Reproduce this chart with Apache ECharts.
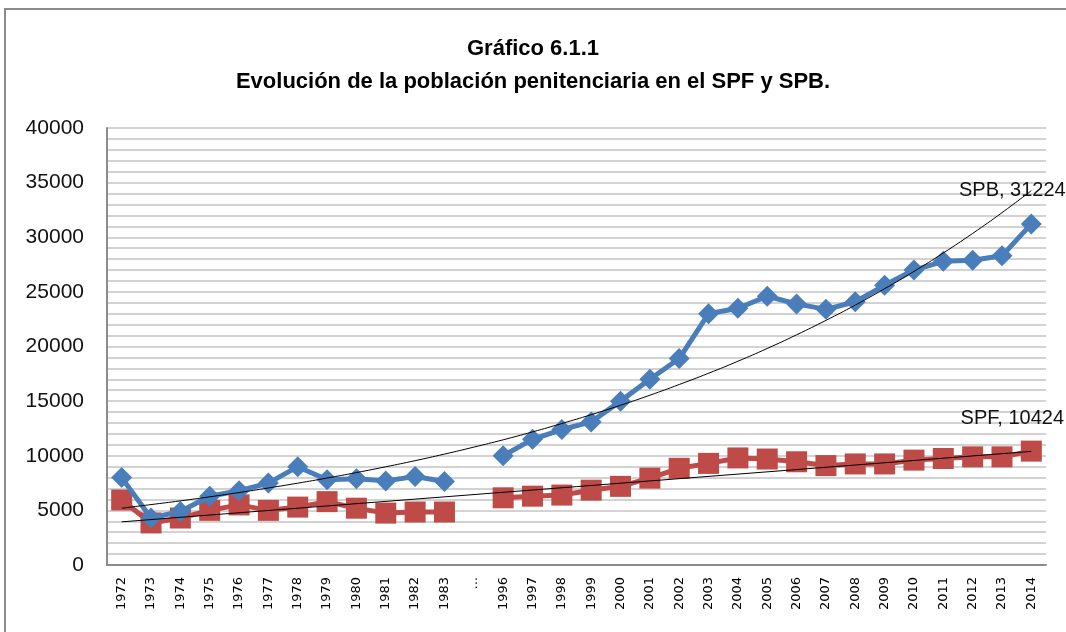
<!DOCTYPE html>
<html>
<head>
<meta charset="utf-8">
<title>Gráfico 6.1.1</title>
<script src="https://cdn.jsdelivr.net/npm/echarts@6/dist/echarts.min.js"></script>
<style>
  html, body { margin: 0; padding: 0; background: #fff; }
  #main { width: 1066px; height: 632px; }
</style>
</head>
<body>
<div id="main"></div>
<script>
// años (con corte "..." entre 1983 y 1996)
const years = [
  "1972", "1973", "1974", "1975", "1976", "1977", "1978", "1979", "1980", "1981", "1982", "1983",
  "...",
  "1996", "1997", "1998", "1999", "2000", "2001", "2002", "2003", "2004", "2005",
  "2006", "2007", "2008", "2009", "2010", "2011", "2012", "2013", "2014"
];

// Servicio Penitenciario Bonaerense
const spb = [
  8000, 4300, 4900, 6300, 6800, 7500, 9000, 7800, 7900, 7700, 8100, 7650,
  null,
  10000, 11500, 12400, 13100, 15000, 17000, 18900, 23000, 23500, 24600,
  23900, 23400, 24100, 25600, 27000, 27800, 27900, 28300, 31224
];

// Servicio Penitenciario Federal
const spf = [
  5950, 3850, 4300, 5000, 5500, 5000, 5300, 5800, 5200, 4750, 4850, 4850,
  null,
  6150, 6300, 6400, 6850, 7200, 7950, 8850, 9300, 9800, 9700,
  9450, 9100, 9250, 9250, 9600, 9750, 9900, 9900, 10424
];

// líneas de tendencia
const spbTrend = [
  5200, 5530, 5870, 6240, 6630, 7050, 7490, 7960, 8460, 8990, 9550, 10150,
  10790, 11460, 12180, 12950, 13760, 14620, 15540, 16520, 17550, 18650,
  19820, 21070, 22390, 23790, 25290, 26870, 28560, 30350, 32250, 34270
];
const spfTrend = [3950].concat(new Array(30).fill(null), [10400]);

const yTicks = { min: 0, max: 40000, step: 5000 };

const chart = echarts.init(document.getElementById("main"));

const endLabel = (name, v) => ({
  value: v,
  label: {
    show: true,
    position: "inside",
    offset: [-19, -33],
    formatter: name + ", " + v,
    color: "#111",
    fontFamily: "Liberation Sans",
    fontSize: 20
  }
});

chart.setOption({
  backgroundColor: "#fff",
  animation: false,
  graphic: [
    {
      type: "rect",
      shape: { x: 5, y: 9, width: 1100, height: 700 },
      style: { fill: "none", stroke: "#8c8c8c", lineWidth: 2 },
      z: -1
    }
  ],
  title: {
    text: "Gráfico 6.1.1\nEvolución de la población penitenciaria en el SPF y SPB.",
    left: "center",
    top: 27,
    textStyle: {
      fontFamily: "Liberation Sans",
      fontWeight: "bold",
      fontSize: 22,
      lineHeight: 33,
      color: "#000"
    }
  },
  grid: { left: 107, right: 20, top: 128, bottom: 67 },
  xAxis: {
    type: "category",
    data: years,
    boundaryGap: true,
    axisLine: { lineStyle: { color: "#8c8c8c", width: 2 } },
    axisTick: { show: false },
    axisLabel: {
      rotate: 90,
      interval: 0,
      margin: 12,
      color: "#000",
      fontFamily: "DejaVu Sans",
      fontSize: 13
    }
  },
  yAxis: {
    type: "value",
    min: yTicks.min,
    max: yTicks.max,
    interval: yTicks.step,
    axisLine: { show: true, lineStyle: { color: "#8c8c8c", width: 2 } },
    axisTick: { show: false },
    axisLabel: {
      margin: 23,
      color: "#111",
      fontFamily: "Liberation Sans",
      fontSize: 21,
      formatter: (v) => String(v)
    },
    splitLine: { lineStyle: { color: "#c4c4c4", width: 1.5 } },
    minorTick: { show: false, splitNumber: 5 },
    minorSplitLine: { show: true, lineStyle: { color: "#c4c4c4", width: 1.5 } }
  },
  series: [
    {
      name: "SPB",
      type: "line",
      data: spb.map((v, i) => (i === spb.length - 1 ? endLabel("SPB", v) : v)),
      symbol: "diamond",
      symbolSize: 21,
      showAllSymbol: true,
      connectNulls: false,
      itemStyle: { color: "#4a7ebb" },
      lineStyle: { color: "#4a7ebb", width: 5 },
      z: 3
    },
    {
      name: "SPF",
      type: "line",
      data: spf.map((v, i) => (i === spf.length - 1 ? endLabel("SPF", v) : v)),
      symbol: "rect",
      symbolSize: 21,
      showAllSymbol: true,
      connectNulls: false,
      itemStyle: { color: "#be4b48" },
      lineStyle: { color: "#be4b48", width: 5 },
      z: 2
    },
    {
      name: "Tendencia SPB",
      type: "line",
      data: spbTrend,
      smooth: true,
      symbol: "none",
      lineStyle: { color: "#000", width: 1 },
      z: 5
    },
    {
      name: "Tendencia SPF",
      type: "line",
      data: spfTrend,
      connectNulls: true,
      symbol: "none",
      lineStyle: { color: "#000", width: 1 },
      z: 5
    }
  ]
});

window.addEventListener("resize", () => chart.resize());
</script>
</body>
</html>
